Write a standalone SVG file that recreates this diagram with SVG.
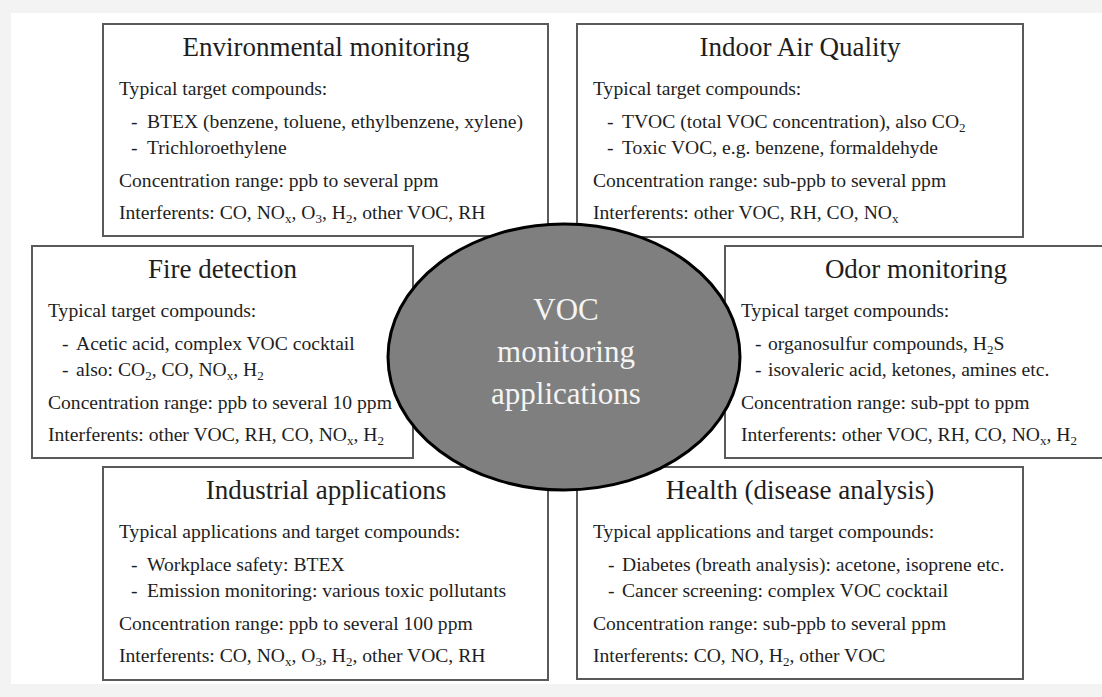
<svg xmlns="http://www.w3.org/2000/svg" width="1102" height="697" viewBox="0 0 1102 697">
<style>
.box{fill:#ffffff;stroke:#5a5a5a;stroke-width:2}
.t{font-family:"Liberation Serif","Times New Roman",serif;fill:#1e1e1e}
.title{font-size:27px;text-anchor:middle}
.body{font-size:19.6px}
.sub{font-size:13px}
.hub{fill:#7f7f7f;stroke:#000000;stroke-width:3}
.hubtext{font-family:"Liberation Serif","Times New Roman",serif;font-size:31px;fill:#f4f4f4;text-anchor:middle}
</style>
<rect x="0" y="0" width="1102" height="697" fill="#f3f3f3"/>
<rect x="11" y="13" width="1091" height="671" fill="#ffffff"/>
<g id="connectors"/>

<g id="env">
<rect class="box" x="103" y="24" width="445" height="212"/>
<text class="t title" x="326" y="56">Environmental monitoring</text>
<text class="t body" x="119" y="95">Typical target compounds:</text>
<text class="t body" y="128"><tspan x="131">-</tspan><tspan x="147">BTEX (benzene, toluene, ethylbenzene, xylene)</tspan></text>
<text class="t body" y="154"><tspan x="131">-</tspan><tspan x="147">Trichloroethylene</tspan></text>
<text class="t body" x="119" y="187">Concentration range: ppb to several ppm</text>
<text class="t body" x="119" y="219">Interferents: CO, NO<tspan class="sub" dy="4">x</tspan><tspan dy="-4">, O</tspan><tspan class="sub" dy="4">3</tspan><tspan dy="-4">, H</tspan><tspan class="sub" dy="4">2</tspan><tspan dy="-4">, other VOC, RH</tspan></text>
</g>

<g id="iaq">
<rect class="box" x="577" y="24" width="446" height="213"/>
<text class="t title" x="800" y="56">Indoor Air Quality</text>
<text class="t body" x="593" y="95">Typical target compounds:</text>
<text class="t body" y="128"><tspan x="607">-</tspan><tspan x="622">TVOC (total VOC concentration), also CO</tspan><tspan class="sub" dy="4">2</tspan></text>
<text class="t body" y="154"><tspan x="607">-</tspan><tspan x="622">Toxic VOC, e.g. benzene, formaldehyde</tspan></text>
<text class="t body" x="593" y="187">Concentration range: sub-ppb to several ppm</text>
<text class="t body" x="593" y="219">Interferents: other VOC, RH, CO, NO<tspan class="sub" dy="4">x</tspan></text>
</g>

<g id="fire">
<rect class="box" x="32" y="246" width="381" height="212"/>
<text class="t title" x="222.5" y="278">Fire detection</text>
<text class="t body" x="48" y="317">Typical target compounds:</text>
<text class="t body" y="350"><tspan x="62">-</tspan><tspan x="76">Acetic acid, complex VOC cocktail</tspan></text>
<text class="t body" y="376"><tspan x="62">-</tspan><tspan x="76">also: CO</tspan><tspan class="sub" dy="4">2</tspan><tspan dy="-4">, CO, NO</tspan><tspan class="sub" dy="4">x</tspan><tspan dy="-4">, H</tspan><tspan class="sub" dy="4">2</tspan></text>
<text class="t body" x="48" y="409">Concentration range: ppb to several 10 ppm</text>
<text class="t body" x="48" y="441">Interferents: other VOC, RH, CO, NO<tspan class="sub" dy="4">x</tspan><tspan dy="-4">, H</tspan><tspan class="sub" dy="4">2</tspan></text>
</g>

<g id="odor">
<rect class="box" x="725" y="246" width="400" height="212"/>
<text class="t title" x="916" y="278">Odor monitoring</text>
<text class="t body" x="741" y="317">Typical target compounds:</text>
<text class="t body" y="350"><tspan x="755">-</tspan><tspan x="768">organosulfur compounds, H</tspan><tspan class="sub" dy="4">2</tspan><tspan dy="-4">S</tspan></text>
<text class="t body" y="376"><tspan x="755">-</tspan><tspan x="768">isovaleric acid, ketones, amines etc.</tspan></text>
<text class="t body" x="741" y="409">Concentration range: sub-ppt to ppm</text>
<text class="t body" x="741" y="441">Interferents: other VOC, RH, CO, NO<tspan class="sub" dy="4">x</tspan><tspan dy="-4">, H</tspan><tspan class="sub" dy="4">2</tspan></text>
</g>

<g id="industrial">
<rect class="box" x="103" y="467" width="445" height="213"/>
<text class="t title" x="326" y="499">Industrial applications</text>
<text class="t body" x="119" y="538">Typical applications and target compounds:</text>
<text class="t body" y="571"><tspan x="131">-</tspan><tspan x="147">Workplace safety: BTEX</tspan></text>
<text class="t body" y="597"><tspan x="131">-</tspan><tspan x="147">Emission monitoring: various toxic pollutants</tspan></text>
<text class="t body" x="119" y="630">Concentration range: ppb to several 100 ppm</text>
<text class="t body" x="119" y="662">Interferents: CO, NO<tspan class="sub" dy="4">x</tspan><tspan dy="-4">, O</tspan><tspan class="sub" dy="4">3</tspan><tspan dy="-4">, H</tspan><tspan class="sub" dy="4">2</tspan><tspan dy="-4">, other VOC, RH</tspan></text>
</g>

<g id="health">
<rect class="box" x="577" y="467" width="446" height="212"/>
<text class="t title" x="800" y="499">Health (disease analysis)</text>
<text class="t body" x="593" y="538">Typical applications and target compounds:</text>
<text class="t body" y="571"><tspan x="608">-</tspan><tspan x="622">Diabetes (breath analysis): acetone, isoprene etc.</tspan></text>
<text class="t body" y="597"><tspan x="608">-</tspan><tspan x="622">Cancer screening: complex VOC cocktail</tspan></text>
<text class="t body" x="593" y="630">Concentration range: sub-ppb to several ppm</text>
<text class="t body" x="593" y="662">Interferents: CO, NO, H<tspan class="sub" dy="4">2</tspan><tspan dy="-4">, other VOC</tspan></text>
</g>

<g id="hub">
<ellipse class="hub" cx="564" cy="357" rx="176" ry="133"/>
<text class="hubtext" x="566" y="320">VOC</text>
<text class="hubtext" x="566" y="362">monitoring</text>
<text class="hubtext" x="566" y="404">applications</text>
</g>
</svg>
